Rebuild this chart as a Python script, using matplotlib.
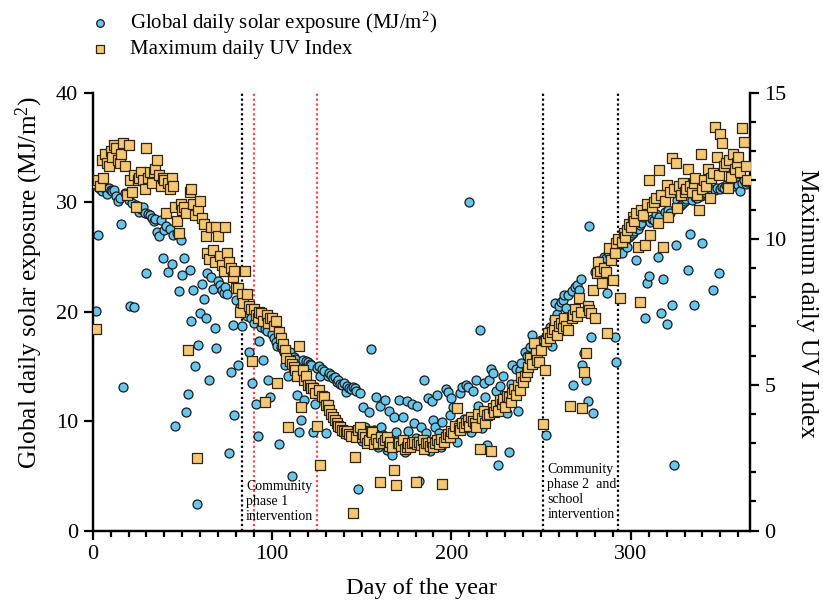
import numpy as np
import matplotlib.pyplot as plt
from matplotlib.ticker import MultipleLocator

plt.rcParams['font.family'] = ['Liberation Serif', 'DejaVu Serif']
plt.rcParams['mathtext.fontset'] = 'custom'
plt.rcParams['mathtext.rm'] = 'Liberation Serif'
plt.rcParams['mathtext.it'] = 'Liberation Serif:italic'

# day of year 1..365
day = np.arange(1, 366)

# global daily solar exposure (MJ/m2) in blocks of 10 days
solar = [
    31.6, 20.1, 27.0, 31.2, 31.0, 31.4, 31.3, 30.8, 31.3, 31.1,
    31.0, 31.1, 30.6, 30.1, 30.4, 28.0, 13.1, 30.9, 30.7, 30.2,
    20.5, 29.9, 20.4, 29.8, 29.6, 29.1, 29.4, 29.6, 29.0, 23.5,
    28.9, 28.8, 28.6, 28.3, 28.5, 27.3, 26.9, 28.4, 24.9, 27.5,
    27.8, 23.6, 27.6, 24.4, 27.0, 9.6, 27.2, 21.9, 26.6, 23.4,
    24.9, 10.8, 12.5, 23.8, 19.2, 22.0, 15.0, 2.4, 17.0, 19.9,
    22.5, 21.2, 19.4, 23.5, 13.8, 23.2, 22.1, 18.5, 16.7, 22.8,
    22.4, 22.0, 21.7, 22.3, 21.6, 7.1, 14.5, 18.8, 10.6, 21.1,
    15.1, 20.4, 18.7, 19.9, 20.2, 19.6, 16.3, 19.4, 13.5, 19.0,
    11.6, 8.6, 17.3, 18.6, 15.6, 18.4, 18.2, 13.8, 12.2, 18.0,
    17.6, 17.2, 16.9, 7.9, 16.8, 16.5, 15.1, 16.2, 14.1, 16.3,
    5.0, 15.9, 15.7, 12.4, 9.0, 10.1, 15.6, 11.9, 15.5, 15.4,
    15.2, 15.1, 9.0, 11.6, 14.9, 15.0, 14.1, 14.8, 14.6, 8.9,
    14.1, 14.4, 14.2, 13.9, 14.0, 13.6, 13.8, 13.4, 13.3, 13.5,
    12.7, 13.2, 13.0, 12.9, 13.1, 13.0, 12.8, 3.8, 12.6, 8.2,
    11.3, 9.5, 8.4, 10.8, 16.6, 8.0, 9.2, 12.2, 7.6, 11.4,
    9.5, 8.7, 11.9, 7.4, 10.9, 8.2, 6.9, 10.4, 9.0, 7.7,
    11.9, 8.3, 10.4, 7.2, 11.8, 9.1, 7.9, 11.6, 9.8, 8.5,
    11.4, 4.5, 9.5, 7.8, 13.8, 8.9, 12.1, 7.3, 11.8, 10.1,
    9.5, 12.4, 8.9, 7.6, 9.9, 8.2, 12.9, 12.7, 10.6, 12.1,
    11.3, 9.4, 8.1, 9.8, 12.6, 13.1, 10.2, 13.3, 13.1, 30.0,
    9.0, 12.8, 10.5, 13.8, 11.4, 18.3, 9.4, 13.5, 12.2, 7.8,
    13.8, 14.8, 14.4, 10.9, 12.8, 6.0, 13.2, 11.5, 14.1, 12.3,
    10.7, 7.2, 13.4, 15.1, 12.6, 14.8, 10.9, 14.7, 15.3, 13.6,
    16.3, 16.0, 14.9, 16.8, 17.9, 15.6, 16.0, 16.4, 17.1, 17.4,
    17.4, 17.6, 8.7, 18.2, 18.6, 16.9, 19.3, 20.8, 19.8, 20.5,
    20.9, 21.1, 21.5, 20.3, 21.5, 19.6, 21.9, 13.3, 22.3, 22.4,
    22.0, 23.0, 15.1, 16.2, 13.8, 11.8, 27.8, 17.7, 10.7, 23.6,
    23.9, 24.6, 24.2, 23.8, 25.0, 24.9, 21.7, 25.3, 24.8, 25.5,
    17.7, 15.4, 25.7, 26.0, 25.4, 26.3, 26.6, 25.9, 26.8, 27.0,
    27.2, 27.4, 24.7, 27.6, 27.9, 28.1, 28.7, 19.4, 22.6, 23.3,
    28.2, 28.5, 28.4, 28.9, 25.0, 28.7, 19.9, 23.0, 29.1, 18.9,
    29.3, 29.0, 20.6, 6.0, 26.1, 30.2, 29.6, 29.8, 29.9, 30.1,
    30.3, 23.8, 27.1, 30.2, 20.6, 30.5, 30.4, 30.7, 30.6, 26.3,
    30.8, 30.9, 31.0, 30.7, 31.2, 22.0, 31.1, 31.3, 23.5, 31.2,
    31.4, 31.3, 31.6, 31.5, 31.4, 31.7, 31.8, 31.5, 31.9, 31.6,
    31.0, 31.8, 32.0, 31.7, 31.9,
]

# maximum daily UV index
uv = [
    11.9, 6.9, 12.0, 11.8, 12.7, 12.1, 12.9, 12.6, 12.5, 13.0,
    12.8, 13.2, 13.1, 12.7, 12.6, 12.9, 13.3, 12.5, 11.5, 13.2,
    12.0, 11.6, 12.2, 11.1, 12.0, 12.1, 12.3, 12.0, 11.7, 13.1,
    12.1, 12.3, 11.9, 12.3, 12.4, 12.7, 12.2, 11.8, 12.1, 12.0,
    10.9, 11.9, 11.7, 12.1, 11.8, 11.1, 10.6, 10.2, 11.2, 11.0,
    11.1, 10.9, 6.2, 11.6, 11.7, 11.2, 10.8, 2.5, 11.0, 11.3,
    10.7, 10.5, 10.1, 9.5, 9.3, 10.4, 9.6, 9.2, 10.4, 10.1,
    9.4, 9.1, 8.9, 10.4, 9.5, 9.2, 9.0, 8.7, 8.9, 8.3,
    8.3, 7.5, 8.1, 7.8, 8.9, 8.1, 7.7, 7.6, 5.8, 7.6,
    7.4, 7.3, 7.5, 7.45, 7.2, 4.4, 7.4, 7.1, 7.3, 7.3,
    7.0, 7.2, 5.05, 6.8, 6.6, 6.4, 6.2, 5.9, 3.56, 5.8,
    5.7, 5.6, 5.5, 5.3, 6.34, 4.24, 5.5, 5.16, 5.3, 5.0,
    5.0, 4.9, 4.87, 4.7, 3.6, 4.82, 2.25, 4.6, 4.59, 4.3,
    4.3, 4.13, 4.0, 3.9, 3.79, 3.7, 3.6, 3.56, 3.45, 3.4,
    3.33, 3.4, 3.3, 3.25, 0.59, 2.53, 3.22, 3.45, 3.56, 3.2,
    3.3, 3.22, 3.0, 3.1, 3.4, 3.39, 2.95, 3.15, 3.0, 1.67,
    3.22, 3.0, 3.1, 3.2, 2.9, 3.05, 2.87, 2.07, 1.56, 3.0,
    2.99, 2.9, 3.1, 2.8, 2.87, 3.0, 2.85, 2.99, 3.05, 1.67,
    2.95, 3.04, 2.93, 3.1, 2.8, 2.99, 3.0, 2.9, 3.05, 2.87,
    3.0, 3.1, 2.95, 3.15, 1.59, 3.05, 3.22, 3.3, 3.2, 3.4,
    3.35, 3.6, 4.19, 3.5, 3.45, 3.7, 3.55, 3.67, 3.8, 3.6,
    3.9, 3.75, 3.7, 3.56, 4.0, 2.78, 3.85, 4.1, 3.67, 3.95,
    4.0, 2.74, 4.2, 4.07, 4.3, 4.1, 4.47, 4.35, 4.5, 4.25,
    4.6, 4.59, 4.4, 4.7, 4.85, 4.65, 5.0, 4.82, 5.27, 5.1,
    5.3, 5.44, 5.6, 5.9, 5.7, 6.42, 6.07, 5.85, 5.79, 6.2,
    3.65, 5.5, 6.5, 6.76, 6.6, 6.82, 6.9, 7.22, 6.7, 7.0,
    7.1, 6.95, 7.3, 7.0, 6.87, 4.27, 7.27, 7.4, 7.6, 7.35,
    7.96, 7.5, 4.19, 5.44, 6.07, 7.7, 7.56, 7.45, 8.24, 7.27,
    8.82, 9.21, 8.9, 8.47, 9.0, 8.87, 6.76, 9.67, 9.27, 8.59,
    9.5, 9.85, 10.0, 7.96, 9.9, 10.2, 10.07, 10.3, 10.5, 10.4,
    10.76, 10.6, 10.9, 9.73, 7.84, 11.0, 10.8, 9.79, 11.2, 12.0,
    10.13, 11.1, 11.27, 11.4, 10.53, 12.36, 11.5, 9.73, 11.3, 11.84,
    10.76, 11.6, 12.76, 11.7, 12.59, 11.05, 11.8, 11.5, 11.9, 11.6,
    11.7, 12.38, 11.8, 11.6, 11.9, 12.07, 11.5, 10.99, 12.9, 11.7,
    12.0, 11.8, 12.4, 11.39, 12.1, 12.25, 13.84, 12.8, 12.2, 13.6,
    13.27, 12.5, 12.6, 11.73, 12.7, 12.13, 12.9, 12.4, 12.6, 12.8,
    12.3, 13.79, 13.33, 12.5, 12.02,
]

# intervention markers (day of year)
black_lines = [83, 251, 293]
red_lines = [90, 125]
phase1_text = "Community\nphase 1\nintervention"
phase2_text = "Community\nphase 2  and\nschool\nintervention"

fig = plt.figure(figsize=(8.23, 6.03), dpi=100)
ax = fig.add_axes([0.1126, 0.1202, 0.7987, 0.7256])
ax2 = ax.twinx()

ax.scatter(day, solar, s=42, marker='o', facecolor='#66c6ee', edgecolor='#1a1a1a',
           linewidth=0.9, zorder=3, label='Global daily solar exposure (MJ/m$^2$)')
ax2.scatter(day, uv, s=46, marker='s', facecolor='#f7c873', edgecolor='#2e2410',
            linewidth=0.9, zorder=3, label='Maximum daily UV Index')

for x in black_lines:
    ax.axvline(x, color='black', linestyle=(0, (1, 1.2)), linewidth=1.6, zorder=1)
for x in red_lines:
    ax.axvline(x, color='#f04a4a', linestyle=(0, (1, 1.2)), linewidth=1.6, zorder=1)

ax.text(85.5, 4.6, phase1_text, fontsize=10, va='top', ha='left', linespacing=1.2)
ax.text(253.5, 6.15, phase2_text, fontsize=10, va='top', ha='left', linespacing=1.2)

ax.set_xlim(0, 366.5)
ax.set_ylim(0, 40)
ax2.set_ylim(0, 15)

ax.xaxis.set_major_locator(MultipleLocator(100))
ax.xaxis.set_minor_locator(MultipleLocator(10))
ax.yaxis.set_major_locator(MultipleLocator(10))
ax2.yaxis.set_major_locator(MultipleLocator(5))
ax2.yaxis.set_minor_locator(MultipleLocator(1))

for a in (ax, ax2):
    a.spines['top'].set_visible(False)
    for s in a.spines.values():
        s.set_linewidth(1.6)
    a.tick_params(which='major', length=6.5, width=1.6, labelsize=16, pad=4, direction='out')
    a.tick_params(which='minor', length=4, width=1.6, direction='out')
ax.tick_params(axis='y', which='minor', left=False)

ax.set_xlabel('Day of the year', fontsize=17.5, labelpad=10)
ax.set_ylabel('Global daily solar exposure (MJ/m$^2$)', fontsize=18.3)
ax2.set_ylabel('Maximum daily UV Index', fontsize=18.3, rotation=270, va='center')
ax.yaxis.set_label_coords(-0.072, 0.566)
ax2.yaxis.set_label_coords(1.086, 0.52)

h1, l1 = ax.get_legend_handles_labels()
h2, l2 = ax2.get_legend_handles_labels()
fig.legend(h1 + h2, l1 + l2, loc='upper left', bbox_to_anchor=(0.094, 1.005),
           frameon=False, fontsize=15, handlelength=1.0, handletextpad=0.95,
           labelspacing=0.2, markerscale=0.85, borderaxespad=0.2)

fig.savefig('out.png', dpi=100)
